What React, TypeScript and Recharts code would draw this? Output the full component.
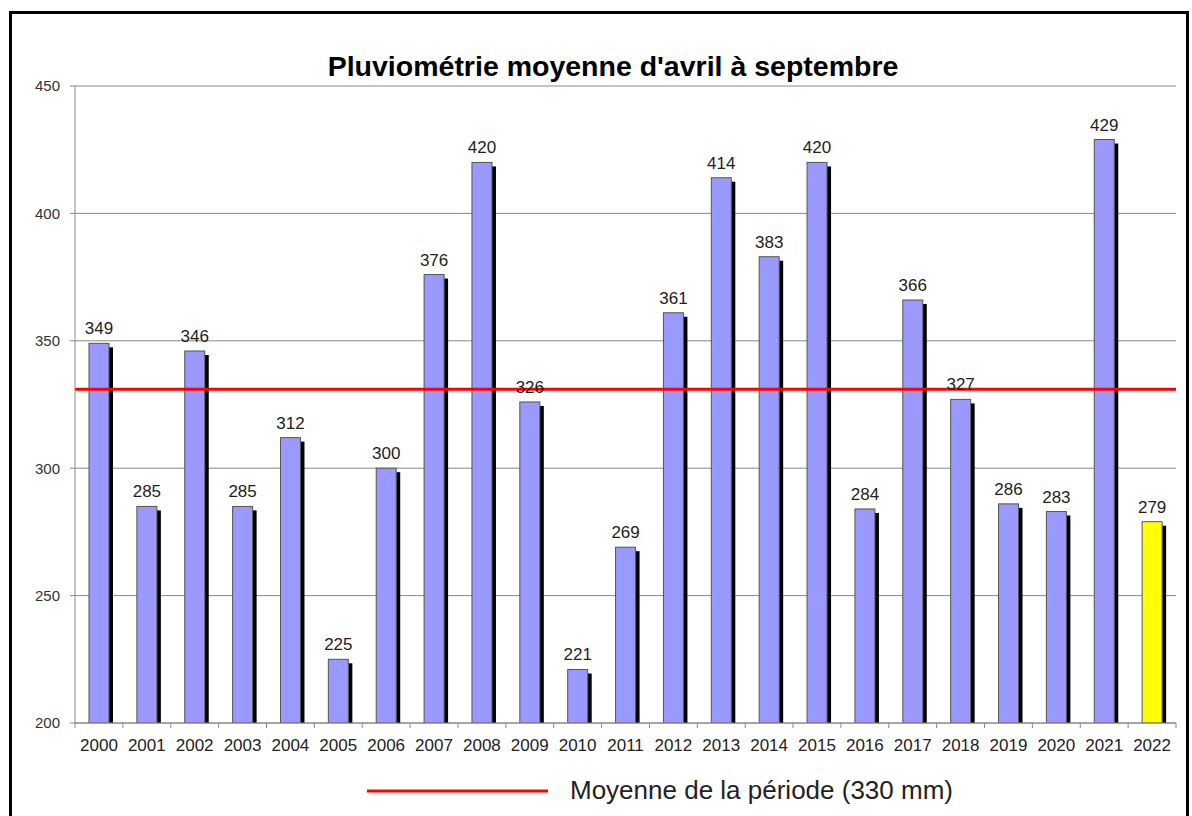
import React from 'react';
import { ComposedChart, Bar, XAxis, YAxis, CartesianGrid, ReferenceLine, LabelList, Cell, Legend } from 'recharts';

const years = ['2000','2001','2002','2003','2004','2005','2006','2007','2008','2009','2010','2011','2012','2013','2014','2015','2016','2017','2018','2019','2020','2021','2022'];
const rainfall = [349,285,346,285,312,225,300,376,420,326,221,269,361,414,383,420,284,366,327,286,283,429,279];
const yTicks = [200,250,300,350,400,450];
const meanValue = 331;
const title = "Pluviométrie moyenne d'avril à septembre";
const legendLabel = 'Moyenne de la période (330 mm)';

const data = years.map((y, i) => ({ year: y, value: rainfall[i] }));
const FONT = 'Arial, "Liberation Sans", sans-serif';

const ShadowBar = (props: any) => {
  const { x, y, width, height, fill } = props;
  if (height == null || height <= 0) return null;
  return (
    <g>
      <rect x={x + width} y={y + 4} width={4} height={Math.max(0, height - 4)} fill="#000" />
      <rect x={x} y={y} width={width} height={height} fill={fill} stroke="#555" strokeWidth={1} />
    </g>
  );
};

const XTick = (props: any) => {
  const { x, payload, index } = props;
  const band = 1101 / years.length;
  return (
    <g>
      <line x1={x - band / 2} x2={x - band / 2} y1={723} y2={728} stroke="#888" />
      {index === years.length - 1 ? (
        <line x1={x + band / 2} x2={x + band / 2} y1={723} y2={728} stroke="#888" />
      ) : null}
      <text x={x} y={751} textAnchor="middle" fontSize={17} fill="#222" fontFamily={FONT}>{payload.value}</text>
    </g>
  );
};

const LegendContent = () => (
  <div style={{ position: 'relative', width: 1192, height: 50 }}>
    <svg width={1192} height={60} style={{ position: 'absolute', left: 0, top: 0, overflow: 'visible' }}>
      <line x1={367} x2={548} y1={38} y2={38} stroke="#ff0000" strokeWidth={3} />
      <text x={570} y={46} fontSize={26} fill="#222" fontFamily={FONT}>{legendLabel}</text>
    </svg>
  </div>
);

export default function App() {
  return (
    <div style={{ position: 'absolute', left: 0, top: 0, width: 1192, height: 816, background: '#fff', overflow: 'hidden' }}>
      <div style={{ position: 'absolute', left: 9, top: 11, width: 1180, height: 805, borderTop: '3px solid #000', borderLeft: '3px solid #000', borderRight: '3px solid #000', boxSizing: 'border-box' }} />
      <div style={{ position: 'absolute', left: 0, top: 0 }}>
        <ComposedChart width={1192} height={816} data={data} margin={{ top: 86, right: 16, left: 0, bottom: 13 }} barCategoryGap={0}>
          <text x={613} y={76} textAnchor="middle" fontSize={28.5} fontWeight="bold" fill="#000" fontFamily={FONT}>{title}</text>
          <CartesianGrid vertical={false} stroke="#888" strokeWidth={1} />
          <XAxis dataKey="year" interval={0} height={30} tickLine={false} stroke="#888" tick={<XTick />} />
          <YAxis width={75} domain={[200, 450]} ticks={yTicks} allowDataOverflow tickSize={5} tickMargin={10} stroke="#888" tick={{ fontSize: 15, fill: '#333', fontFamily: FONT }} />
          <Legend verticalAlign="bottom" content={<LegendContent />} />
          <Bar dataKey="value" barSize={20} shape={<ShadowBar />} isAnimationActive={false}>
            {data.map((d, i) => (
              <Cell key={i} fill={d.year === '2022' ? '#ffff00' : '#9999ff'} />
            ))}
            <LabelList dataKey="value" position="top" offset={9} fill="#222" fontSize={17} fontFamily={FONT} />
          </Bar>
          <ReferenceLine y={meanValue} stroke="#ff0000" strokeWidth={3} />
        </ComposedChart>
      </div>
    </div>
  );
}
